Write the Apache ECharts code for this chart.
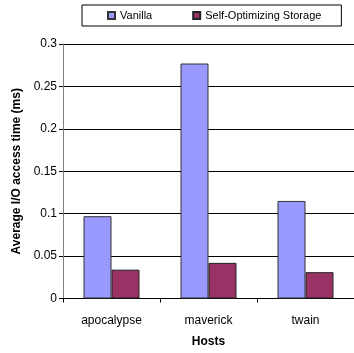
<!DOCTYPE html>
<html lang="en">
<head>
    <meta charset="UTF-8">
    <title>Average I/O access time</title>
    <style>
        * { margin: 0; padding: 0; }
        #chart { width: 354px; height: 353px; background: #fff; }
    </style>
</head>
<body>
    <div id="chart"></div>
    <script src="https://cdn.jsdelivr.net/npm/echarts@6/dist/echarts.min.js"></script>
    <script>
        var hosts = ['apocalypse', 'maverick', 'twain'];
        var vanilla = [0.097, 0.277, 0.115];
        var selfOpt = [0.034, 0.042, 0.031];
        var yTicks = { min: 0, max: 0.3, interval: 0.05 };

        var font = 'Liberation Sans, Arial, sans-serif';
        var chart = echarts.init(document.getElementById('chart'));

        var option = {
            animation: false,
            textStyle: { fontFamily: font },
            legend: {
                left: 82,
                top: 5,
                padding: [5, 20, 5, 25],
                itemGap: 40,
                itemWidth: 7,
                itemHeight: 7,
                borderColor: '#000',
                borderWidth: 1,
                borderRadius: 0,
                textStyle: { fontSize: 11, color: '#000', fontFamily: font },
                data: [
                    { name: 'Vanilla', icon: 'rect' },
                    { name: 'Self-Optimizing Storage', icon: 'rect' }
                ]
            },
            grid: {
                left: 63,
                top: 44,
                width: 297,
                height: 254.5,
                containLabel: false
            },
            xAxis: {
                type: 'category',
                data: hosts,
                name: 'Hosts',
                nameLocation: 'middle',
                nameGap: 37,
                nameTextStyle: { fontWeight: 'bold', fontSize: 12, color: '#000' },
                axisLine: { lineStyle: { color: '#000', width: 1 } },
                axisTick: { show: true, length: 4, lineStyle: { color: '#000' } },
                axisLabel: { color: '#000', fontSize: 12, margin: 16 }
            },
            yAxis: {
                type: 'value',
                min: yTicks.min,
                max: yTicks.max,
                interval: yTicks.interval,
                name: 'Average I/O access time (ms)',
                nameLocation: 'middle',
                nameRotate: 90,
                nameGap: 39,
                nameTextStyle: { fontWeight: 'bold', fontSize: 12, color: '#000' },
                axisLine: { show: true, lineStyle: { color: '#808080', width: 1 } },
                axisTick: { show: true, length: 4, lineStyle: { color: '#000' } },
                axisLabel: { color: '#000', fontSize: 12, margin: 6 },
                splitLine: { show: true, lineStyle: { color: '#000', width: 1 } }
            },
            series: [
                {
                    name: 'Vanilla',
                    type: 'bar',
                    data: vanilla,
                    barWidth: 28,
                    barGap: '0%',
                    itemStyle: { color: '#9999FF', borderColor: '#333', borderWidth: 1 }
                },
                {
                    name: 'Self-Optimizing Storage',
                    type: 'bar',
                    data: selfOpt,
                    barWidth: 28,
                    itemStyle: { color: '#993366', borderColor: '#222', borderWidth: 1 }
                }
            ]
        };
        chart.setOption(option);
    </script>
</body>
</html>
